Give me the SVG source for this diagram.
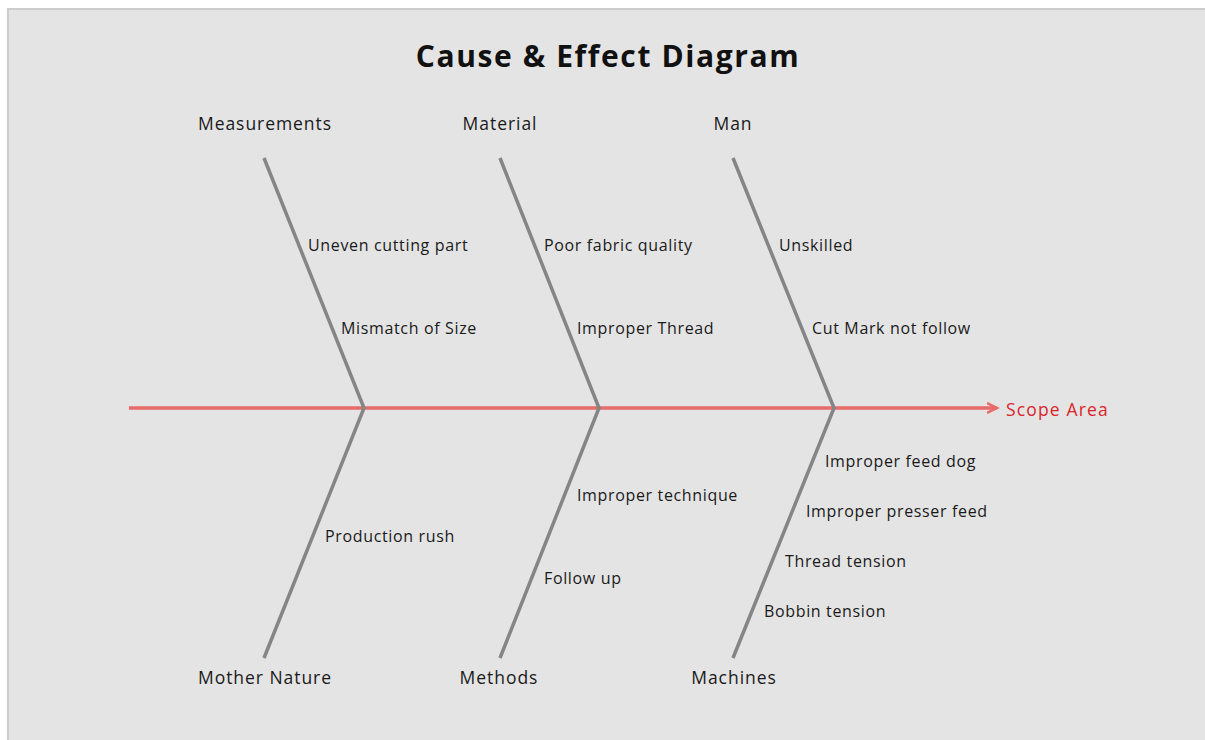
<svg xmlns="http://www.w3.org/2000/svg" width="1205" height="740" viewBox="0 0 1205 740">
<defs>
<style>
.bone{fill:none;stroke:#858585;stroke-width:3.5;stroke-linejoin:miter}
.cat{font-family:"Open Sans","Noto Sans","Liberation Sans",sans-serif;font-size:17.5px;letter-spacing:0.95px;fill:#1a1a1a;text-anchor:middle}
.cause{font-family:"Open Sans","Noto Sans","Liberation Sans",sans-serif;font-size:16px;letter-spacing:0.65px;fill:#1a1a1a}
.title{font-family:"Open Sans","Noto Sans","Liberation Sans",sans-serif;font-size:30px;letter-spacing:1.6px;font-weight:bold;fill:#111;text-anchor:middle}
.scope{font-family:"Open Sans","Noto Sans","Liberation Sans",sans-serif;font-size:17.5px;letter-spacing:1.15px;fill:#d9262b}
</style>
<marker id="arr" markerWidth="14" markerHeight="14" refX="10" refY="6" orient="auto" markerUnits="userSpaceOnUse">
<path d="M0,1 L10,6 L0,11" fill="none" stroke="#e86a6a" stroke-width="2.5"/>
</marker>
</defs>
<rect x="0" y="0" width="1205" height="740" fill="#ffffff"/>
<rect x="8" y="9" width="1200" height="735" fill="#e4e4e4" stroke="#cccccc" stroke-width="2"/>
<text class="title" x="608" y="67">Cause &amp; Effect Diagram</text>
<g id="connectors">
<line x1="129" y1="408" x2="997" y2="408" stroke="#e86a6a" stroke-width="3.5" marker-end="url(#arr)"/>
<polyline class="bone" points="264,158 364,408 264,658"/>
<polyline class="bone" points="500,158 599,408 500,658"/>
<polyline class="bone" points="733,158 834,408 733,658"/>
</g>
<g id="scope"><text class="scope" x="1006" y="416">Scope Area</text></g>
<g id="measurements">
<text class="cat" x="265" y="130">Measurements</text>
<text class="cause" x="308" y="251">Uneven cutting part</text>
<text class="cause" x="341" y="334">Mismatch of Size</text>
</g>
<g id="material">
<text class="cat" x="500" y="130">Material</text>
<text class="cause" x="544" y="251">Poor fabric quality</text>
<text class="cause" x="577" y="334">Improper Thread</text>
</g>
<g id="man">
<text class="cat" x="733" y="130">Man</text>
<text class="cause" x="779" y="251">Unskilled</text>
<text class="cause" x="812" y="334">Cut Mark not follow</text>
</g>
<g id="mothernature">
<text class="cat" x="265" y="684">Mother Nature</text>
<text class="cause" x="325" y="542">Production rush</text>
</g>
<g id="methods">
<text class="cat" x="499" y="684">Methods</text>
<text class="cause" x="577" y="501">Improper technique</text>
<text class="cause" x="544" y="584">Follow up</text>
</g>
<g id="machines">
<text class="cat" x="734" y="684">Machines</text>
<text class="cause" x="825" y="467">Improper feed dog</text>
<text class="cause" x="806" y="517">Improper presser feed</text>
<text class="cause" x="785" y="567">Thread tension</text>
<text class="cause" x="764" y="617">Bobbin tension</text>
</g>
</svg>
